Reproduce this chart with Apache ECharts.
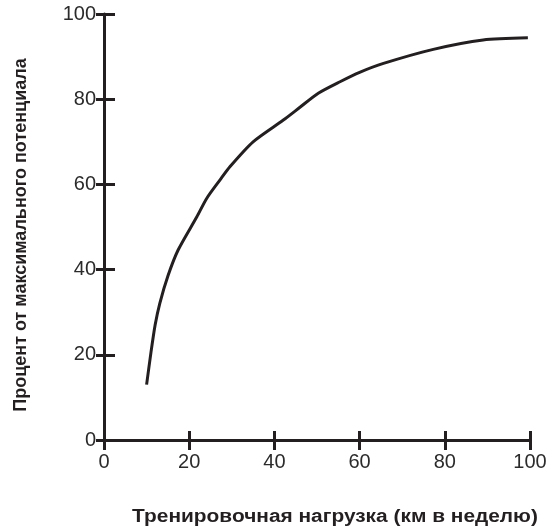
<!DOCTYPE html>
<html>
<head>
<meta charset="utf-8">
<script src="https://cdn.jsdelivr.net/npm/echarts@6/dist/echarts.min.js"></script>
<style>html,body{margin:0;padding:0;background:#fff}#c{width:550px;height:530px}</style>
</head>
<body>
<div id="c"></div>
<script>
var xValues = [10, 11, 12, 13.1, 15, 17.4, 21.8, 24.1, 27.2, 29.6, 35, 42.1, 46, 50.3, 55.4, 60, 65.6, 77.3, 89, 99.5];
var yValues = [13, 20.4, 27, 32.1, 38.5, 44.6, 52.4, 56.7, 61, 64.2, 70, 75.1, 78.1, 81.4, 84.1, 86.3, 88.4, 91.7, 93.9, 94.4];
var xTitle = 'Тренировочная нагрузка (км в неделю)';
var yTitle = 'Процент от максимального потенциала';

var ink = '#231f20';
var chart = echarts.init(document.getElementById('c'));
var pts = xValues.map(function (x, i) { return [x, yValues[i]]; });
var baseX = {
  type: 'value', min: 0, max: 100, interval: 20, position: 'bottom',
  splitLine: { show: false }
};
var baseY = {
  type: 'value', min: 0, max: 100, interval: 20, position: 'left',
  splitLine: { show: false }
};
chart.setOption({
  animation: false,
  grid: { left: 104, right: 20, top: 14, bottom: 90 },
  xAxis: [
    Object.assign({}, baseX, {
      axisLine: { show: true, lineStyle: { color: ink, width: 3 } },
      axisTick: { show: true, length: 10, lineStyle: { color: ink, width: 3 } },
      axisLabel: { margin: 12, color: '#2b2b2b', fontFamily: 'Liberation Sans', fontSize: 20 }
    }),
    Object.assign({}, baseX, {
      axisLine: { show: false },
      axisTick: { show: true, inside: true, length: 9, lineStyle: { color: ink, width: 3 } },
      axisLabel: { show: false }
    })
  ],
  yAxis: [
    Object.assign({}, baseY, {
      axisLine: { show: true, lineStyle: { color: ink, width: 3 } },
      axisTick: { show: true, length: 8, lineStyle: { color: ink, width: 3 } },
      axisLabel: { margin: 8, color: '#2b2b2b', fontFamily: 'Liberation Sans', fontSize: 20 }
    }),
    Object.assign({}, baseY, {
      axisLine: { show: false },
      axisTick: { show: true, inside: true, length: 11, lineStyle: { color: ink, width: 3 } },
      axisLabel: { show: false }
    })
  ],
  graphic: [
    {
      type: 'text',
      x: 335, y: 517, scaleX: 1.16,
      style: { text: xTitle, x: 0, y: 0, textAlign: 'center', textVerticalAlign: 'middle',
        font: 'bold 18px "Liberation Sans"', fill: ink }
    },
    {
      type: 'text',
      x: 21, y: 235, rotation: Math.PI / 2,
      style: { text: yTitle, x: 0, y: 0, textAlign: 'center', textVerticalAlign: 'middle',
        font: 'bold 18px "Liberation Sans"', fill: ink }
    }
  ],
  series: [{
    type: 'line', xAxisIndex: 0, yAxisIndex: 0,
    data: pts, showSymbol: false, smooth: 0.25,
    lineStyle: { color: ink, width: 3 }
  }]
});
</script>
</body>
</html>
